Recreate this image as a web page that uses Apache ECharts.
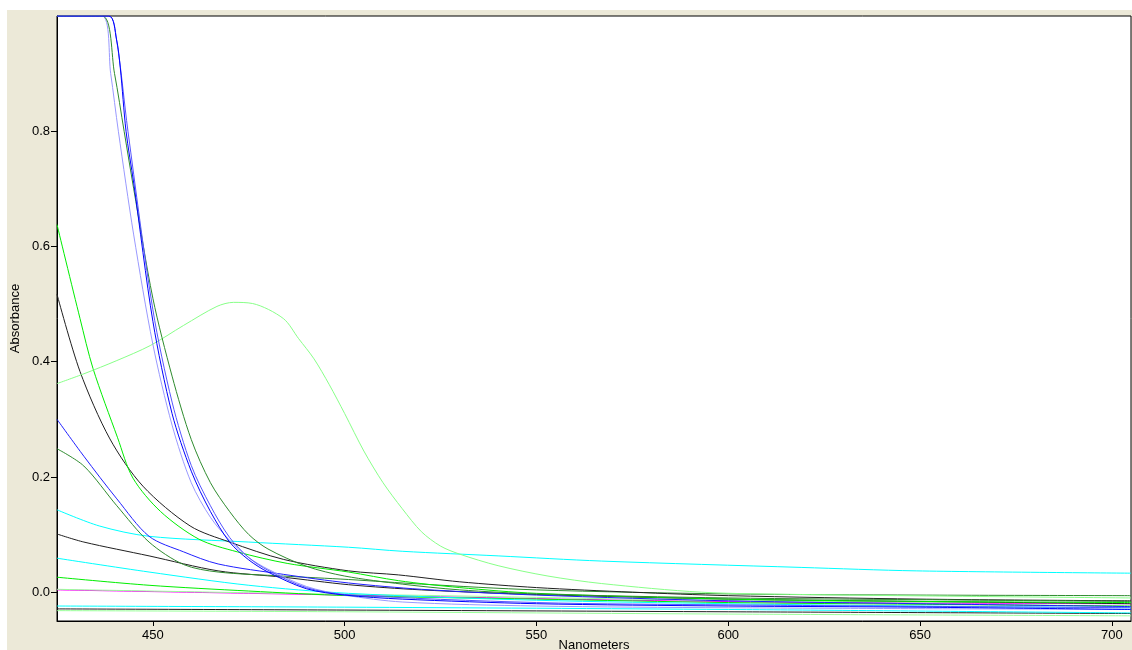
<!DOCTYPE html>
<html><head><meta charset="utf-8">
<script src="https://cdn.jsdelivr.net/npm/echarts@6/dist/echarts.min.js"></script>
<style>
html,body{margin:0;padding:0;background:#fff;width:1132px;height:650px;overflow:hidden}
#chart{position:absolute;left:7px;top:10px;width:1125px;height:640px}
</style>
</head><body><div id="chart"></div>
<script>
// Wavelength tick labels and absorbance tick labels
const xTicks = [450, 500, 550, 600, 650, 700];
const yTicks = [0.0, 0.2, 0.4, 0.6, 0.8];

// Spectra: [nanometers, absorbance]
const cyanTop = [[425,0.143],[436,0.115],[449,0.097],[475,0.087],[501,0.078],[515,0.071],[540,0.063],[567,0.054],[619,0.043],[649,0.037],[705,0.033]];
const black2 = [[425,0.101],[432,0.087],[449,0.063],[467,0.037],[484,0.026],[501,0.013],[520,0.004],[550,-0.004],[600,-0.012],[650,-0.016],[705,-0.02]];
const cyan2 = [[425,0.059],[449,0.035],[475,0.012],[501,-0.002],[550,-0.014],[600,-0.02],[650,-0.024],[705,-0.027]];
const green3 = [[425,0.026],[449,0.012],[475,0.002],[501,-0.006],[550,-0.012],[600,-0.018],[650,-0.021],[705,-0.024]];
const magentaLow = [[425,0.004],[475,-0.002],[525,-0.008],[575,-0.014],[625,-0.018],[705,-0.02]];
const lightGreen2 = [[425,0.005],[475,-0.001],[525,-0.006],[575,-0.012],[625,-0.016],[705,-0.019]];
const cyan3 = [[425,-0.024],[500,-0.026],[600,-0.03],[705,-0.036]];
const black3 = [[425,-0.029],[500,-0.031],[600,-0.034],[705,-0.037]];
const lightGreen3 = [[425,-0.032],[500,-0.034],[600,-0.038],[705,-0.041]];
const darkGreen2 = [[425,0.249],[432,0.219],[440.6,0.15],[449,0.087],[458,0.048],[467,0.035],[484,0.028],[501,0.022],[520,0.014],[550,0.004],[600,-0.003],[650,-0.005],[705,-0.006]];
const blue2 = [[425,0.30],[432,0.236],[440.6,0.162],[449,0.097],[458,0.07],[467,0.049],[484,0.031],[501,0.016],[520,0.005],[550,-0.005],[600,-0.015],[650,-0.02],[705,-0.025]];
const black1 = [[425,0.517],[431,0.383],[438.8,0.266],[447.4,0.184],[459.7,0.115],[470,0.087],[484,0.057],[501,0.037],[514,0.03],[530,0.018],[550,0.008],[575,0.0],[600,-0.006],[650,-0.012],[705,-0.015]];
const green1 = [[425,0.638],[431,0.475],[434.4,0.388],[440.8,0.268],[444.8,0.198],[452,0.14],[462,0.092],[472,0.07],[485,0.05],[501,0.035],[514,0.02],[530,0.008],[550,-0.002],[600,-0.012],[650,-0.016],[705,-0.018]];
const humpGreen = [[425,0.362],[432,0.379],[440.6,0.402],[449.3,0.428],[458,0.463],[466.7,0.496],[471,0.503],[476,0.501],[484,0.475],[488,0.44],[492,0.405],[496,0.36],[500,0.31],[505,0.245],[510,0.19],[515,0.145],[520,0.105],[525,0.08],[530,0.066],[540,0.046],[553,0.028],[567,0.015],[593,0.0],[619,-0.004],[705,-0.01]];
const darkGreenSteep = [[425,1.0],[436.8,1.0],[440,0.9],[442.5,0.8],[445,0.7],[450,0.51],[455,0.375],[460,0.265],[465,0.19],[470,0.14],[475,0.10],[480,0.075],[490,0.045],[500,0.028],[515,0.014],[530,0.004],[550,-0.003],[600,-0.01],[650,-0.013],[705,-0.016]];
const lightBlueSteep = [[425,1.0],[436.7,1.0],[439,0.9],[441,0.8],[445,0.62],[450,0.43],[455,0.29],[460,0.19],[465,0.13],[470,0.09],[475,0.06],[480,0.04],[490,0.01],[500,-0.005],[515,-0.017],[550,-0.024],[600,-0.027],[705,-0.03]];
const blueMidSteep = [[425,1.0],[438.5,1.0],[440.5,0.96],[443.5,0.8],[450,0.49],[455,0.33],[460,0.22],[465,0.15],[470,0.095],[475,0.06],[480,0.038],[490,0.008],[500,-0.004],[550,-0.018],[600,-0.022],[705,-0.027]];
const blueSteep = [[425,1.0],[438.5,1.0],[440.5,0.96],[441.5,0.91],[443,0.8],[445,0.71],[450,0.47],[455,0.31],[460,0.21],[465,0.14],[470,0.087],[475,0.056],[480,0.035],[490,0.006],[500,-0.005],[515,-0.012],[550,-0.02],[600,-0.024],[650,-0.026],[705,-0.03]];

const spectra = [
  ['cyanTop', cyanTop, '#00FFFF'],
  ['lightGreen3', lightGreen3, '#99FF99'],
  ['black3', black3, '#202020'],
  ['cyan3', cyan3, '#00FFFF'],
  ['magentaLow', magentaLow, '#FF00FF'],
  ['lightGreen2', lightGreen2, '#99FF99'],
  ['green3', green3, '#00EE00'],
  ['cyan2', cyan2, '#00FFFF'],
  ['black2', black2, '#202020'],
  ['darkGreen2', darkGreen2, '#2E8B2E'],
  ['blue2', blue2, '#2020FF'],
  ['black1', black1, '#202020'],
  ['green1', green1, '#00EE00'],
  ['humpGreen', humpGreen, '#88FF88'],
  ['lightBlueSteep', lightBlueSteep, '#9999FF'],
  ['darkGreenSteep', darkGreenSteep, '#2E8B2E'],
  ['blueMidSteep', blueMidSteep, '#5555FF'],
  ['blueSteep', blueSteep, '#0000FF']
];

const font = 'Liberation Sans';
const chart = echarts.init(document.getElementById('chart'), null, {renderer: 'canvas'});
chart.setOption({
  animation: false,
  backgroundColor: '#ECE9D8',
  grid: {left: 50, right: 1, top: 6, bottom: 29, show: true, backgroundColor: '#FFFFFF', borderColor: '#000', borderWidth: 1, outerBoundsMode: 'none', containLabel: false},
  xAxis: {
    type: 'value', min: 425, max: 705,
    name: 'Nanometers', nameLocation: 'middle', nameGap: 18, nameMoveOverlap: false,
    nameTextStyle: {fontFamily: font, fontSize: 13, color: '#000'},
    axisLine: {show: true, onZero: false, lineStyle: {color: '#000', width: 1}},
    axisTick: {show: true, length: 5, inside: false, customValues: xTicks, lineStyle: {color: '#000'}},
    axisLabel: {show: true, customValues: xTicks, margin: 8, fontFamily: font, fontSize: 13, color: '#000'},
    splitLine: {show: false}
  },
  yAxis: {
    type: 'value', min: -0.05, max: 1.0,
    name: 'Absorbance', nameLocation: 'middle', nameGap: 35, nameRotate: 90, nameMoveOverlap: false,
    nameTextStyle: {fontFamily: font, fontSize: 13, color: '#000'},
    axisLine: {show: true, onZero: false, lineStyle: {color: '#000', width: 1}},
    axisTick: {show: true, length: 6, inside: false, customValues: yTicks, lineStyle: {color: '#000'}},
    axisLabel: {show: true, customValues: yTicks, margin: 7, fontFamily: font, fontSize: 13, color: '#000', formatter: v => v.toFixed(1)},
    splitLine: {show: false}
  },
  series: spectra.map(([name, data, color]) => ({
    name, type: 'line', data, showSymbol: false, symbol: 'none',
    smooth: 0.3, clip: true,
    lineStyle: {color, width: 1}, itemStyle: {color}, emphasis: {disabled: true}
  }))
});
</script></body></html>
